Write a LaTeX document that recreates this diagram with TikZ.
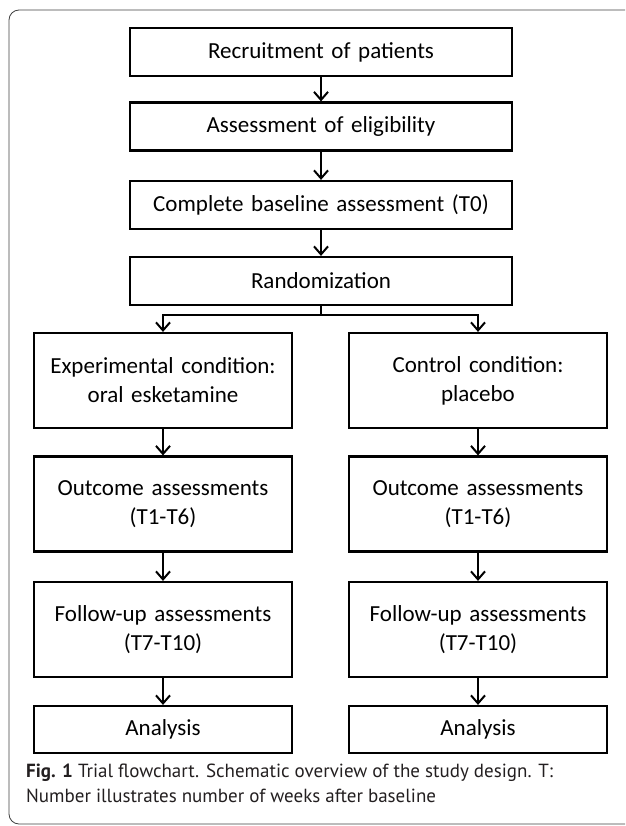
\documentclass[tikz,border=0pt]{standalone}
\usepackage{fontspec}
\setmainfont{Carlito}
\newfontfamily\capfont{PT Sans}
\usepackage{xcolor}
\usetikzlibrary{arrows.meta,positioning}

\definecolor{capgray}{HTML}{231F20}

\begin{document}
\begin{tikzpicture}[x=1pt, y=-1pt,
    stagebox/.style={draw, line width=2.2pt, inner xsep=4pt, inner ysep=0pt,
        align=center, font=\fontsize{23}{29}\selectfont},
    widebox/.style={stagebox, text width=374pt, minimum height=48pt},
    armbox/.style={stagebox, text width=250pt, minimum height=95pt},
    lowbox/.style={stagebox, text width=250pt, minimum height=47pt},
    flow/.style={line width=2pt, -{Straight Barb[length=8pt,width=14pt,line width=2pt]}},
    captext/.style={anchor=base west, text=capgray, inner sep=0pt,
        font=\capfont\fontsize{19}{23}\selectfont}]
    \clip (0,0) rectangle (625,826);

    % Frame
    \draw[line width=0.8pt, black!75, rounded corners=10pt] (650,10) -- (9,10) -- (9,824) -- (650,824);

    % Common stages
    \node[widebox] (recruit) at (321,52) {Recruitment of patients};
    \node[widebox] (elig) at (321,126.5) {Assessment of eligibility};
    \node[widebox] (baseline) at (321,205) {Complete baseline assessment (T0)};
    \node[widebox] (random) at (321,281) {Randomization};

    \draw[flow] (recruit) -- (elig);
    \draw[flow] (elig) -- (baseline);
    \draw[flow] (baseline) -- (random);

    % Experimental arm
    \node[armbox] (expcond) at (163,380.5) {Experimental condition:\\oral esketamine};
    \node[armbox] (expout) at (163,504) {Outcome assessments\\(T1-T6)};
    \node[armbox] (expfollow) at (163,629.5) {Follow-up assessments\\(T7-T10)};
    \node[lowbox] (expanalysis) at (163,729.5) {Analysis};

    % Control arm
    \node[armbox] (ctrlcond) at (478,380.5) {Control condition:\\placebo};
    \node[armbox] (ctrlout) at (478,504) {Outcome assessments\\(T1-T6)};
    \node[armbox] (ctrlfollow) at (478,629.5) {Follow-up assessments\\(T7-T10)};
    \node[lowbox] (ctrlanalysis) at (478,729.5) {Analysis};

    % Split after randomization
    \draw[line width=2pt] (random.south) -- ++(0,9) coordinate (split);
    \draw[flow] (split) -| (expcond);
    \draw[flow] (split) -| (ctrlcond);

    \draw[flow] (expcond) -- (expout);
    \draw[flow] (expout) -- (expfollow);
    \draw[flow] (expfollow) -- (expanalysis);
    \draw[flow] (ctrlcond) -- (ctrlout);
    \draw[flow] (ctrlout) -- (ctrlfollow);
    \draw[flow] (ctrlfollow) -- (ctrlanalysis);

    % Caption
    \node[captext] (capone) at (26,777) {\textbf{Fig. 1} Trial flowchart. Schematic overview of the study design. T:};
    \node[captext] (captwo) at (26,802) {Number illustrates number of weeks after baseline};
\end{tikzpicture}
\end{document}
